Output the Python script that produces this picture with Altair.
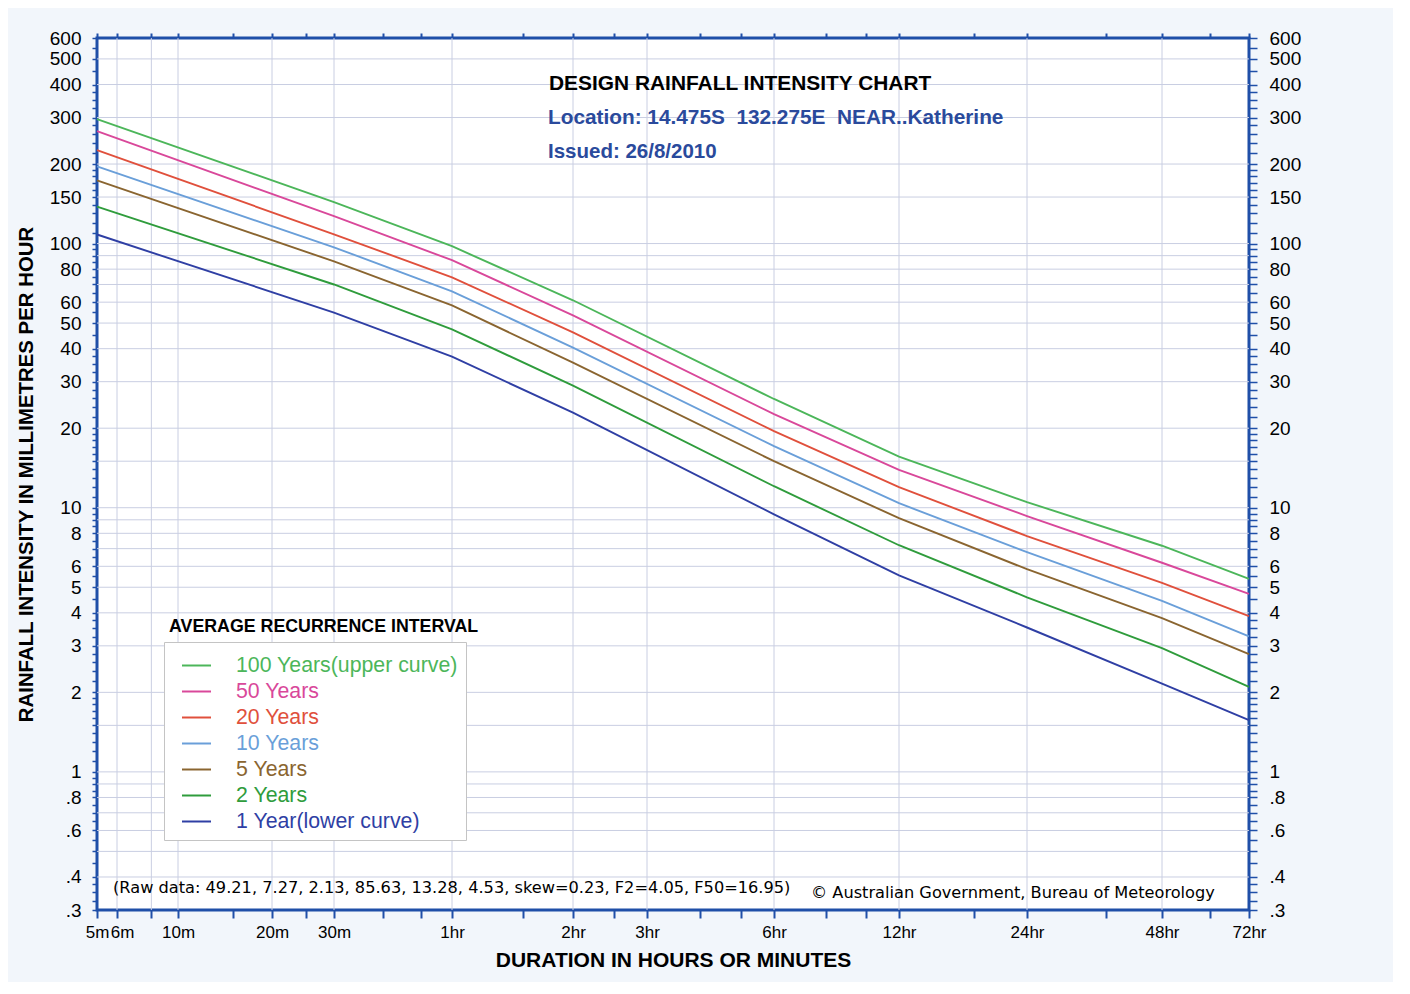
import altair as alt
import pandas as pd

# ---------------- data ----------------
durations = [5, 30, 60, 120, 360, 720, 1440, 2880, 4320]  # minutes
ari_names = ["100 Years(upper curve)", "50 Years", "20 Years", "10 Years",
             "5 Years", "2 Years", "1 Year(lower curve)"]
ari_colors = ["#4cb65a", "#d9489a", "#e0503c", "#6a9fd9", "#8a6530", "#2f9c3c", "#2f3fa4"]

y100 = [296, 143.5, 97.7, 61.0, 25.8, 15.6, 10.5, 7.18, 5.38]
y50 = [266.6, 126.9, 86.5, 53.5, 22.6, 13.9, 9.3, 6.19, 4.72]
y20 = [225.8, 108.4, 74.5, 46.1, 19.5, 11.97, 7.81, 5.19, 3.885]
y10 = [196, 96.8, 65.9, 40.4, 17.1, 10.4, 6.79, 4.44, 3.26]
y5 = [173.6, 85.6, 58.3, 35.4, 15.0, 9.13, 5.85, 3.82, 2.79]
y2 = [138, 70.0, 47.3, 29.0, 12.06, 7.21, 4.58, 2.94, 2.10]
y1 = [108.2, 54.8, 37.3, 22.9, 9.44, 5.54, 3.52, 2.16, 1.57]
series = [y100, y50, y20, y10, y5, y2, y1]

# axis ticks / labels
x_anchor_vals = [5, 6, 10, 20, 30, 60, 120, 180, 360, 720, 1440, 2880, 4320]
x_anchor_px = [0, 20, 81, 175, 237, 355, 476, 550, 677, 802, 930, 1065, 1152]
x_label_vals = [5, 6, 10, 20, 30, 60, 120, 180, 360, 720, 1440, 2880, 4320]
x_grid_vals = [6, 8, 10, 20, 30, 60, 120, 180, 360, 720, 1440, 2880]
x_tick_vals = [5, 6, 8, 10, 15, 20, 25, 30, 40, 50, 60, 90, 120, 150, 180, 240,
               300, 360, 480, 600, 720, 1080, 1440, 2160, 2880, 3600, 4320]

y_label_vals = [600, 500, 400, 300, 200, 150, 100, 80, 60, 50, 40, 30, 20, 10,
                8, 6, 5, 4, 3, 2, 1, 0.8, 0.6, 0.4, 0.3]
y_grid_vals = [0.4, 0.5, 0.6, 0.7, 0.8, 0.9, 1, 1.5, 2, 3, 4, 5, 6, 7, 8, 9,
               10, 15, 20, 30, 40, 50, 60, 70, 80, 90, 100, 150, 200, 300, 400, 500]
mantissas = [1, 1.1, 1.2, 1.3, 1.4, 1.5, 1.6, 1.7, 1.8, 1.9, 2, 2.2, 2.4, 2.6, 2.8,
             3, 3.25, 3.5, 3.75, 4, 4.5, 5, 5.5, 6, 6.5, 7, 7.5, 8, 8.5, 9, 9.5]
y_tick_vals = sorted({round(m * d, 6) for d in [0.1, 1, 10, 100] for m in mantissas
                      if 0.3 <= round(m * d, 6) <= 600})

NB = "\u00a0"
title_text = "DESIGN RAINFALL INTENSITY CHART"
location_text = f"Location: 14.475S {NB}132.275E {NB}NEAR..Katherine"
issued_text = "Issued: 26/8/2010"
raw_text = "(Raw data: 49.21, 7.27, 2.13, 85.63, 13.28, 4.53, skew=0.23, F2=4.05, F50=16.95)"
copy_text = "\u00a9 Australian Government, Bureau of Meteorology"
legend_title = "AVERAGE RECURRENCE INTERVAL"

# ---------------- build tables ----------------
rows = []
for name, vals in zip(ari_names, series):
    for d, v in zip(durations, vals):
        rows.append({"ari": name, "dur": d, "val": v})
df = pd.DataFrame(rows)
ygrid_df = pd.DataFrame({"v": y_grid_vals})
xgrid_df = pd.DataFrame({"d": x_grid_vals})

FONT = "Liberation Sans"
BLUE = "#1f4fa8"
GRID = "#c9cee2"

xscale = alt.Scale(type="log", domain=x_anchor_vals, range=x_anchor_px, nice=False)
yscale = alt.Scale(type="log", domain=[0.3, 600], nice=False)
cscale = alt.Scale(domain=ari_names, range=ari_colors)

xl = str(x_label_vals)
x_label_expr = (f"indexof({xl}, datum.value) < 0 ? '' : "
                "(datum.value < 60 ? datum.value + 'm' : (datum.value / 60) + 'hr')")
yl = str(y_label_vals)
y_label_expr = (f"indexof({yl}, datum.value) < 0 ? '' : "
                "(datum.value < 1 ? '.' + round(datum.value * 10) : format(datum.value, 'd'))")

lines = alt.Chart(df).mark_line(strokeWidth=1.9).encode(
    x=alt.X("dur:Q", scale=xscale,
            axis=alt.Axis(orient="bottom", values=x_tick_vals, labelExpr=x_label_expr,
                          title="DURATION IN HOURS OR MINUTES", titleFontSize=21,
                          titleFont=FONT, titleFontWeight="bold", titlePadding=9,
                          labelFont=FONT, labelFontSize=17, labelColor="black",
                          labelOverlap=False, labelFlush=False, labelPadding=6,
                          labelOffset={"condition": {"test": "datum.value == 6", "value": 5},
                                       "value": 0},
                          tickSize=8, tickWidth=2, tickColor=BLUE, domain=False,
                          grid=False)),
    y=alt.Y("val:Q", scale=yscale,
            axis=alt.Axis(orient="left", values=y_tick_vals, labelExpr=y_label_expr,
                          title="RAINFALL INTENSITY IN MILLIMETRES PER HOUR",
                          titleFontSize=20.4, titleFont=FONT, titleFontWeight="bold",
                          titlePadding=13, labelFont=FONT, labelFontSize=19,
                          labelColor="black", labelOverlap=False, labelPadding=11,
                          labelBaseline="middle",
                          tickSize=5, tickWidth=1.5, tickColor=BLUE, domain=False,
                          grid=False)),
    color=alt.Color("ari:N", scale=cscale,
                    legend=alt.Legend(orient="none", legendX=67, legendY=604, title=None,
                                      symbolType="stroke", symbolStrokeWidth=2,
                                      symbolSize=841, symbolOffset=9,
                                      labelFont=FONT, labelFontSize=21.3,
                                      labelOffset=24, rowPadding=-9, padding=8,
                                      strokeColor="#c4c4c4", fillColor="white",
                                      labelLimit=400,
                                      labelColor=alt.ExprRef("scale('color', datum.value)"))),
)

mirror = alt.Chart(df).mark_line(opacity=0).encode(
    x=alt.X("dur:Q", scale=xscale,
            axis=alt.Axis(orient="top", values=x_tick_vals, labels=False, title=None,
                          tickSize=5, tickWidth=2, tickColor=BLUE, domain=False, grid=False)),
    y=alt.Y("val:Q", scale=yscale,
            axis=alt.Axis(orient="right", values=y_tick_vals, labelExpr=y_label_expr,
                          title=None, labelFont=FONT, labelFontSize=19, labelColor="black",
                          labelOverlap=False, labelPadding=12, tickSize=8, tickWidth=1.5,
                          tickColor=BLUE, domain=False, grid=False)),
    detail="ari:N",
)

ygrid = alt.Chart(ygrid_df).mark_rule(color=GRID, strokeWidth=1).encode(
    y=alt.Y("v:Q", scale=yscale, axis=None)
)
xgrid = alt.Chart(xgrid_df).mark_rule(color=GRID, strokeWidth=1).encode(
    x=alt.X("d:Q", scale=xscale, axis=None)
)


def label(text, x, y, size, color="black", weight="normal", font=FONT):
    return alt.Chart(pd.DataFrame({"t": [text]})).mark_text(
        align="left", baseline="middle", font=font, fontSize=size,
        fontWeight=weight, color=color
    ).encode(text="t:N", x=alt.value(x), y=alt.value(y))


texts = [
    label(title_text, 452, 46, 20.9, "black", "bold"),
    label(location_text, 451, 80, 20.8, "#2a4a9c", "bold"),
    label(issued_text, 451, 114, 20.5, "#2a4a9c", "bold"),
    label(raw_text, 16, 850, 16.2, font="DejaVu Sans"),
    label(copy_text, 714, 855, 16.2, font="DejaVu Sans"),
    label(legend_title, 72, 589, 17.8, "black", "bold"),
]

chart = alt.layer(ygrid, xgrid, lines, mirror, *texts).resolve_axis(
    x="independent", y="independent"
).properties(
    width=1152, height=872,
    padding={"left": 8, "top": 21, "right": 92, "bottom": 12},
    background="#f2f6fb",
).configure_view(
    stroke=BLUE, strokeWidth=3, fill="white"
)

chart.save("out.html", embed_options={"renderer": "svg", "actions": False})
